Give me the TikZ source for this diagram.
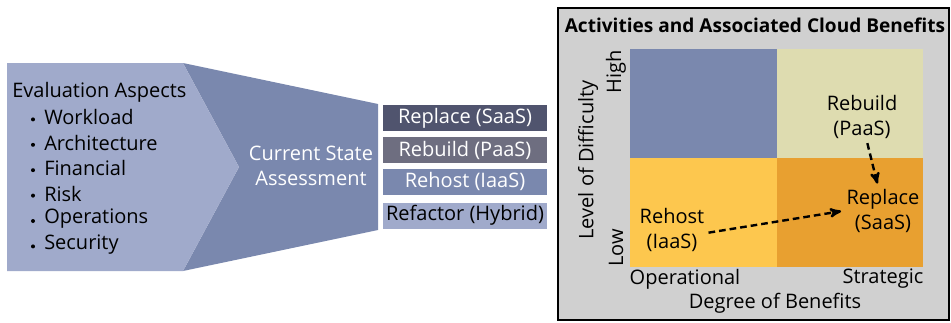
\documentclass[tikz,border=0pt]{standalone}
\usepackage{fontspec}
\setmainfont{Open Sans}
\usetikzlibrary{arrows}
\definecolor{asplight}{RGB}{160,170,203}
\definecolor{aspdark}{RGB}{122,136,174}
\definecolor{saasbox}{RGB}{80,84,110}
\definecolor{paasbox}{RGB}{110,110,128}
\definecolor{panelgray}{RGB}{208,208,208}
\definecolor{quadkhaki}{RGB}{222,220,176}
\definecolor{quadyellow}{RGB}{253,199,78}
\definecolor{quadorange}{RGB}{232,160,48}
\tikzset{
    every node/.style={font=\fontsize{15}{19}\selectfont},
    aspect/.style={anchor=west, inner sep=0pt},
    dot/.style={circle, fill, inner sep=0pt, minimum size=3pt},
    actbox/.style={minimum width=123pt, minimum height=19.5pt, inner sep=0pt, text=white},
    axislbl/.style={inner sep=1pt},
    quadlbl/.style={align=center, inner sep=3pt},
    migrate/.style={
        draw,
        ->,>=stealth',
        line width=1.8pt,
        dash pattern=on 5pt off 3pt,
        shorten >=1pt
    }
}

\begin{document}
\begin{tikzpicture}[x=0.75pt,y=-0.75pt]
	\useasboundingbox (0,0) rectangle (951,322);
	\fill[aspdark] (183,63) -- (378,104) -- (378,230) -- (183,271) -- (239,167) -- cycle;
	\fill[asplight] (7,63) -- (183,63) -- (239,167) -- (183,271) -- (7,271) -- cycle;
	\node[aspect] (aspects) at (12,92) {Evaluation Aspects};
	\foreach \item [count=\i] in {Workload,Architecture,Financial,Risk,Operations,Security}{
		\node[dot] (bul\i) at (33,{94+25.4*\i}) {};
		\node[aspect] (asp\i) at (44,{92+25.4*\i}) {\item};
	}
	\node[text=white, align=center] (cstate) at (311,166) {Current State\\Assessment};
	\node[actbox, fill=saasbox] (saas) at (465,118) {Replace (SaaS)};
	\node[actbox, fill=paasbox] (paas) at (465,150) {Rebuild (PaaS)};
	\node[actbox, fill=aspdark] (iaas) at (465,181.5) {Rehost (IaaS)};
	\node[actbox, fill=asplight, text=black] (hybrid) at (465,215.5) {Refactor (Hybrid)};
	\draw[fill=panelgray, line width=1.5pt] (558,8) rectangle (949,320);
	\node[font=\fontsize{14.3}{16}\selectfont\bfseries] (title) at (755,25) {Activities and Associated Cloud Benefits};
	\fill[aspdark] (630,49) rectangle (777,158);
	\fill[quadkhaki] (777,49) rectangle (923,158);
	\fill[quadyellow] (630,158) rectangle (777,267);
	\fill[quadorange] (777,158) rectangle (923,267);
	\node[axislbl, rotate=90] (high) at (616,72) {High};
	\node[axislbl, rotate=90] (low) at (616,248) {Low};
	\node[axislbl, rotate=90] (difficulty) at (588,160) {Level of Difficulty};
	\node[axislbl] (operational) at (685,279) {Operational};
	\node[axislbl] (strategic) at (883,279) {Strategic};
	\node[axislbl] (benefits) at (775,303) {Degree of Benefits};
	\node[quadlbl] (rebuild) at (862,117) {Rebuild\\(PaaS)};
	\node[quadlbl] (replace) at (883,211) {Replace\\(SaaS)};
	\node[quadlbl] (rehost) at (672,230) {Rehost\\(IaaS)};
	\draw[migrate] ([xshift=4pt]rebuild.south) -- ([xshift=-4pt]replace.north);
	\draw[migrate] ([yshift=-2pt]rehost.east) -- (replace.west);
\end{tikzpicture}
\end{document}
